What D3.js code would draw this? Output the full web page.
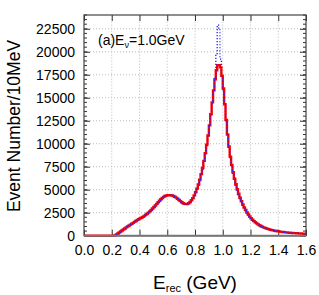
<!DOCTYPE html>
<html lang="en">
<head>
    <meta charset="UTF-8"/>
    <title>Erec distribution</title>
    <script src="https://cdnjs.cloudflare.com/ajax/libs/d3/7.8.5/d3.min.js"></script>
    <style>
        body { margin: 0; background: #fff; }
        svg text { font-family: "Liberation Sans", Arial, sans-serif; fill: #000; }
        .tick line { stroke: #333; }
        .domain { display: none; }
    </style>
</head>
<body>
<div id="chart"></div>

<script>
    // bin width 10 MeV, bins start at 0.00 GeV
    const binWidth = 0.01;

    // red solid histogram (events per 10 MeV)
    const redCounts = [
        0, 0, 0, 0, 0, 0, 0, 0, 0, 0,
        0, 0, 0, 0, 0, 0, 0, 0, 0, 0,
        0, 0, 30, 130, 240, 350, 460, 570, 680, 790,
        900, 1000, 1100, 1200, 1300, 1400, 1500, 1600, 1700, 1790,
        1880, 1960, 2050, 2150, 2260, 2380, 2510, 2650, 2800, 2960,
        3120, 3290, 3460, 3630, 3800, 3960, 4100, 4220, 4310, 4370,
        4400, 4410, 4400, 4370, 4320, 4240, 4140, 4020, 3890, 3760,
        3640, 3530, 3460, 3430, 3450, 3530, 3660, 3850, 4090, 4380,
        4720, 5120, 5580, 6100, 6700, 7380, 8140, 8980, 9900, 10900,
        12000, 13200, 14500, 15800, 17000, 18000, 18550, 18550, 18300, 17400,
        16000, 14300, 12600, 11000, 9700, 8600, 7700, 6900, 6200, 5600,
        5050, 4560, 4130, 3740, 3390, 3070, 2790, 2530, 2300, 2090,
        1900, 1740, 1590, 1460, 1340, 1230, 1140, 1050, 980, 910,
        850, 790, 740, 690, 650, 610, 575, 545, 515, 490,
        465, 440, 420, 400, 380, 365, 350, 335, 320, 305,
        295, 285, 275, 265, 255, 245, 235, 225, 215, 205
    ];

    // blue dotted histogram
    const blueCounts = [
        0, 0, 0, 0, 0, 0, 0, 0, 0, 0,
        0, 0, 0, 0, 0, 0, 0, 0, 0, 0,
        0, 0, 40, 140, 230, 360, 450, 580, 690, 780,
        910, 990, 1110, 1190, 1310, 1390, 1510, 1620, 1690, 1800,
        1870, 1970, 2040, 2160, 2250, 2390, 2500, 2660, 2790, 2970,
        3110, 3300, 3450, 3640, 3790, 3970, 4090, 4230, 4300, 4380,
        4390, 4420, 4390, 4380, 4310, 4250, 4130, 4030, 3880, 3770,
        3630, 3540, 3450, 3420, 3440, 3520, 3650, 3830, 4060, 4330,
        4650, 5050, 5480, 6000, 6580, 7250, 8000, 8850, 9800, 10850,
        11950, 13150, 14450, 15800, 17100, 19800, 22900, 22500, 19200, 17300,
        15900, 14200, 12500, 10900, 9600, 8500, 7600, 6800, 6100, 5500,
        4950, 4450, 4020, 3640, 3300, 3000, 2720, 2480, 2260, 2060,
        1880, 1730, 1580, 1450, 1330, 1230, 1130, 1050, 975, 905,
        845, 790, 735, 690, 645, 610, 570, 545, 510, 490,
        460, 440, 415, 400, 375, 365, 345, 335, 315, 305,
        290, 285, 270, 265, 250, 245, 230, 225, 210, 205
    ];

    const xTicks = [0, 0.2, 0.4, 0.6, 0.8, 1.0, 1.2, 1.4, 1.6];
    const yTicks = [0, 2500, 5000, 7500, 10000, 12500, 15000, 17500, 20000, 22500];
    const yMinorTicks = d3.range(0, 24001, 500);

    const width = 319;
    const height = 295;
    const margin = {top: 15, right: 13, bottom: 59.3, left: 84};

    const svg = d3.select("#chart")
        .append("svg")
        .attr("width", width)
        .attr("height", height);

    const xScale = d3.scaleLinear()
        .domain([0, 1.6])
        .range([margin.left, width - margin.right]);

    const yScale = d3.scaleLinear()
        .domain([0, 24000])
        .range([height - margin.bottom, margin.top]);

    const x0 = margin.left, x1 = width - margin.right;
    const y0 = height - margin.bottom, y1 = margin.top;

    // grid lines
    const grid = svg.append("g");
    grid.selectAll(".gx")
        .data(xTicks.slice(1, -1))
        .enter()
        .append("line")
        .attr("x1", d => xScale(d)).attr("x2", d => xScale(d))
        .attr("y1", y0).attr("y2", y1)
        .attr("stroke", "#bbb")
        .attr("stroke-dasharray", "1,2");
    grid.selectAll(".gy")
        .data(yTicks.slice(1))
        .enter()
        .append("line")
        .attr("x1", x0).attr("x2", x1)
        .attr("y1", d => yScale(d)).attr("y2", d => yScale(d))
        .attr("stroke", "#bbb")
        .attr("stroke-dasharray", "1,2");

    // minor ticks on left and right
    const minor = svg.append("g").attr("stroke", "#333");
    minor.selectAll(".ml")
        .data(yMinorTicks)
        .enter()
        .append("line")
        .attr("x1", x0).attr("x2", x0 + 3)
        .attr("y1", d => yScale(d)).attr("y2", d => yScale(d));
    minor.selectAll(".mr")
        .data(yMinorTicks)
        .enter()
        .append("line")
        .attr("x1", x1).attr("x2", x1 - 3)
        .attr("y1", d => yScale(d)).attr("y2", d => yScale(d));

    // axes (ticks inside)
    svg.append("g")
        .attr("transform", `translate(0,${y0})`)
        .call(d3.axisBottom(xScale).tickValues(xTicks).tickFormat(d3.format(".1f")).tickSizeInner(-6).tickSizeOuter(0).tickPadding(9))
        .call(g => g.selectAll("text").attr("font-size", 14));

    svg.append("g")
        .attr("transform", `translate(0,${y1})`)
        .call(d3.axisTop(xScale).tickValues(xTicks).tickFormat("").tickSizeInner(-6).tickSizeOuter(0));

    svg.append("g")
        .attr("transform", `translate(${x0},0)`)
        .call(d3.axisLeft(yScale).tickValues(yTicks).tickSizeInner(-6).tickSizeOuter(0).tickPadding(9).tickFormat(d3.format("d")))
        .call(g => g.selectAll("text").attr("font-size", 14));

    svg.append("g")
        .attr("transform", `translate(${x1},0)`)
        .call(d3.axisRight(yScale).tickValues(yTicks).tickFormat("").tickSizeInner(-6).tickSizeOuter(0));

    // histograms
    const line = d3.line()
        .x(d => xScale(d[0]))
        .y(d => yScale(d[1]))
        .curve(d3.curveStepAfter);

    function toSteps(counts) {
        const pts = counts.map((c, i) => [i * binWidth, c]);
        pts.push([counts.length * binWidth, counts[counts.length - 1]]);
        return pts;
    }

    svg.append("path")
        .datum(toSteps(redCounts))
        .attr("d", line)
        .attr("fill", "none")
        .attr("stroke", "#ff0000")
        .attr("stroke-width", 2.4);

    svg.append("path")
        .datum(toSteps(blueCounts))
        .attr("d", line)
        .attr("fill", "none")
        .attr("stroke", "#2222ff")
        .attr("stroke-width", 1.3)
        .attr("stroke-dasharray", "1.2,1.8");

    // frame
    svg.append("rect")
        .attr("x", x0).attr("y", y1)
        .attr("width", x1 - x0).attr("height", y0 - y1)
        .attr("fill", "none")
        .attr("stroke", "#444")
        .attr("stroke-width", 1.2);
    svg.append("line")
        .attr("x1", x0).attr("x2", x1)
        .attr("y1", y0).attr("y2", y0)
        .attr("stroke", "#777")
        .attr("stroke-width", 2);

    // label
    const lab = svg.append("text")
        .attr("x", 98)
        .attr("y", 45)
        .attr("font-size", 14);
    lab.append("tspan").text("(a)E");
    lab.append("tspan").attr("font-size", 9).attr("dy", 3).text("ν");
    lab.append("tspan").attr("dy", -3).text("=1.0GeV");

    // axis titles
    svg.append("text")
        .attr("transform", `translate(20,126) rotate(-90)`)
        .attr("text-anchor", "middle")
        .attr("font-size", 17.5)
        .text("Event Number/10MeV");

    const xt = svg.append("text")
        .attr("x", 195)
        .attr("y", 289)
        .attr("text-anchor", "middle")
        .attr("font-size", 19);
    xt.append("tspan").text("E");
    xt.append("tspan").attr("font-size", 11).attr("dy", 3).text("rec");
    xt.append("tspan").attr("dy", -3).text(" (GeV)");
</script>
</body>
</html>
